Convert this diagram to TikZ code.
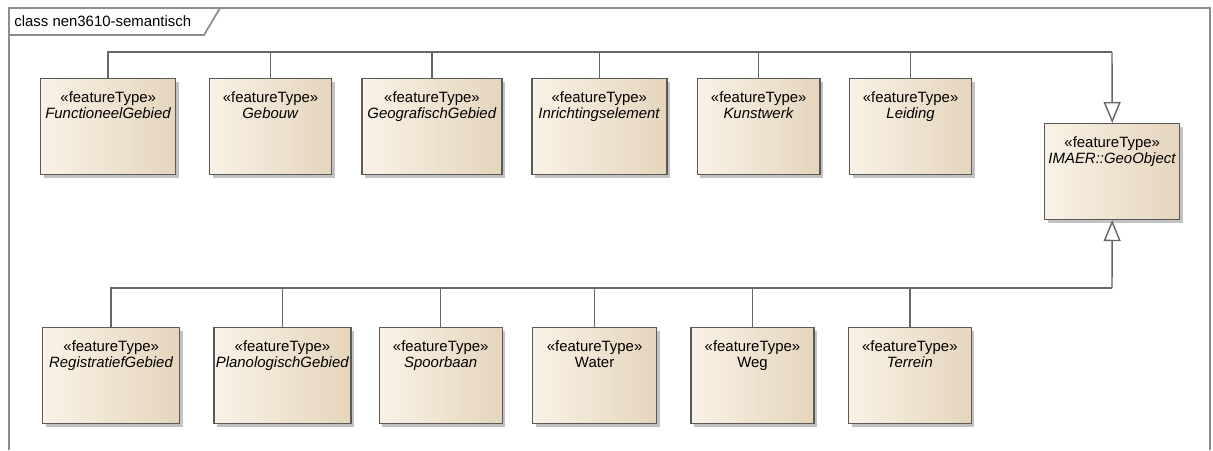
\documentclass[tikz,border=0pt]{standalone}
\usepackage{fontspec}
\setmainfont{Liberation Sans}
\usepackage{xcolor}
\usetikzlibrary{arrows.meta,positioning,shadows}

\definecolor{boxlight}{RGB}{249,242,230}
\definecolor{boxdark}{RGB}{229,213,188}

\begin{document}
\begin{tikzpicture}[
    x=0.02cm, y=-0.02cm,
    feature/.style={rectangle, draw=black!65, line width=0.8pt, left color=boxlight, right color=boxdark, drop shadow={shadow xshift=1.8pt, shadow yshift=-1.8pt, fill=black!40, opacity=0.6}, align=center, font=\fontsize{8.5}{9.1}\selectfont, text height=15pt, text depth=24.5pt, inner xsep=1pt, inner ysep=7.5pt},
    assoc/.style={draw=black!60, line width=0.8pt},
    gen/.style={assoc, -{Triangle[fill=white, length=0.42cm, width=0.34cm]}},
    frame/.style={draw=black!45, line width=1pt}
]
\useasboundingbox (0,0) rectangle (1213,450);

% Diagram frame
\draw[frame] (9,450) -- (9,8) -- (1210,8) -- (1210,450);
\draw[frame] (9,35) -- (204,35) -- (220,8);
\node[anchor=west, font=\fontsize{8.5}{9.1}\selectfont, inner sep=0pt] (title) at (14,21) {class nen3610-semantisch};

% Top row
\node[feature, minimum width=2.7cm, anchor=north west] (functioneel) at (40,78) {«featureType»\\\textit{FunctioneelGebied}};
\node[feature, minimum width=2.44cm, right=0.65cm of functioneel] (gebouw) {«featureType»\\\textit{Gebouw}};
\node[feature, minimum width=2.8cm, right=0.58cm of gebouw] (geografisch) {«featureType»\\\textit{GeografischGebied}};
\node[feature, minimum width=2.7cm, right=0.57cm of geografisch] (inrichting) {«featureType»\\\textit{Inrichtingselement}};
\node[feature, minimum width=2.46cm, right=0.58cm of inrichting] (kunstwerk) {«featureType»\\\textit{Kunstwerk}};
\node[feature, minimum width=2.44cm, right=0.56cm of kunstwerk] (leiding) {«featureType»\\\textit{Leiding}};

% Supertype
\node[feature, minimum width=2.7cm, anchor=north west] (geoobject) at (1044,123) {«featureType»\\\textit{IMAER::GeoObject}};

% Bottom row
\node[feature, minimum width=2.74cm, anchor=north west] (registratief) at (42,327) {«featureType»\\\textit{RegistratiefGebied}};
\node[feature, minimum width=2.72cm, right=0.66cm of registratief] (planologisch) {«featureType»\\\textit{PlanologischGebied}};
\node[feature, minimum width=2.46cm, right=0.54cm of planologisch] (spoorbaan) {«featureType»\\\textit{Spoorbaan}};
\node[feature, minimum width=2.48cm, right=0.58cm of spoorbaan] (water) {«featureType»\\Water};
\node[feature, minimum width=2.46cm, right=0.66cm of water] (weg) {«featureType»\\Weg};
\node[feature, minimum width=2.46cm, right=0.66cm of weg] (terrein) {«featureType»\\\textit{Terrein}};

% Generalisations
\coordinate (topbus) at (1112,52);
\coordinate (bottombus) at (1112,288);

\draw[assoc] (functioneel.north) |- (topbus);
\draw[assoc] (gebouw.north) |- (topbus);
\draw[assoc] (geografisch.north) |- (topbus);
\draw[assoc] (inrichting.north) |- (topbus);
\draw[assoc] (kunstwerk.north) |- (topbus);
\draw[assoc] (leiding.north) |- (topbus);
\draw[gen] (topbus) -- (geoobject.north);

\draw[assoc] (registratief.north) |- (bottombus);
\draw[assoc] (planologisch.north) |- (bottombus);
\draw[assoc] (spoorbaan.north) |- (bottombus);
\draw[assoc] (water.north) |- (bottombus);
\draw[assoc] (weg.north) |- (bottombus);
\draw[assoc] (terrein.north) |- (bottombus);
\draw[gen] (bottombus) -- (geoobject.south);

\end{tikzpicture}
\end{document}
